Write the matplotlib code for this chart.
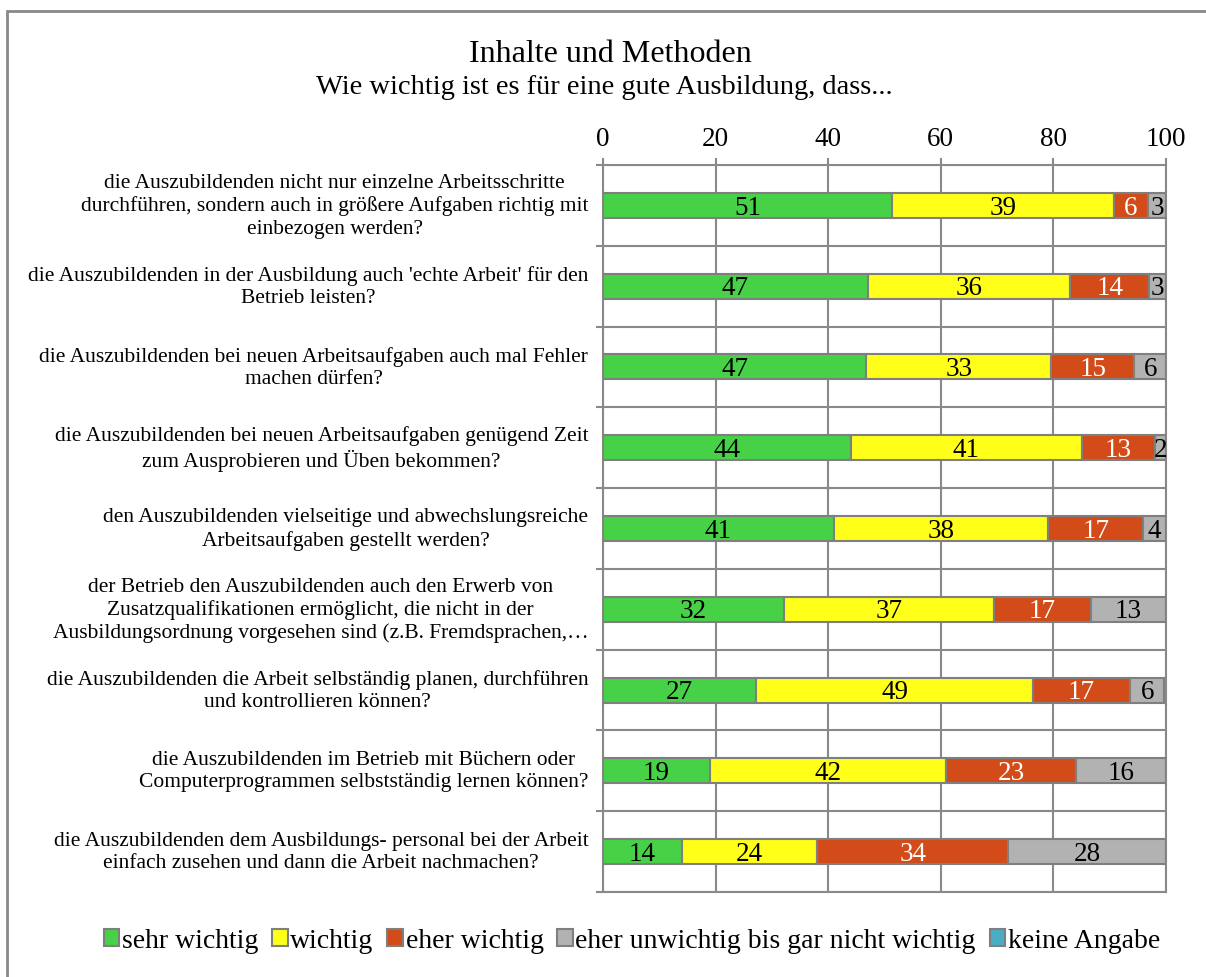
import numpy as np
import matplotlib.pyplot as plt
from matplotlib.patches import Patch, Rectangle

plt.rcParams['font.family'] = ['Liberation Serif', 'DejaVu Serif']

questions = [
    "die Auszubildenden nicht nur einzelne Arbeitsschritte\ndurchführen, sondern auch in größere Aufgaben richtig mit\neinbezogen werden?",
    "die Auszubildenden in der Ausbildung auch 'echte Arbeit' für den\nBetrieb leisten?",
    "die Auszubildenden bei neuen Arbeitsaufgaben auch mal Fehler\nmachen dürfen?",
    "die Auszubildenden bei neuen Arbeitsaufgaben genügend Zeit\nzum Ausprobieren und Üben bekommen?",
    "den Auszubildenden vielseitige und abwechslungsreiche\nArbeitsaufgaben gestellt werden?",
    "der Betrieb den Auszubildenden auch den Erwerb von\nZusatzqualifikationen ermöglicht, die nicht in der\nAusbildungsordnung vorgesehen sind (z.B. Fremdsprachen,…",
    "die Auszubildenden die Arbeit selbständig planen, durchführen\nund kontrollieren können?",
    "die Auszubildenden im Betrieb mit Büchern oder\nComputerprogrammen selbstständig lernen können?",
    "die Auszubildenden dem Ausbildungs- personal bei der Arbeit\neinfach zusehen und dann die Arbeit nachmachen?",
]

# shares in percent, read from the segment edges (labels are rounded)
sehr_wichtig = [51.4, 47.0, 46.8, 44.0, 41.0, 32.2, 27.2, 19.0, 14.0]
wichtig = [39.4, 36.0, 32.8, 41.0, 38.0, 37.2, 49.2, 42.0, 24.0]
eher_wichtig = [6.0, 14.0, 14.8, 13.0, 17.0, 17.2, 17.2, 23.0, 34.0]
eher_unwichtig = [3.2, 3.0, 5.6, 2.0, 4.0, 13.4, 6.1, 16.0, 28.0]
keine_angabe = [0, 0, 0, 0, 0, 0, 0, 0, 0]

series_names = ["sehr wichtig", "wichtig", "eher wichtig",
                "eher unwichtig bis gar nicht wichtig", "keine Angabe"]
series = [sehr_wichtig, wichtig, eher_wichtig, eher_unwichtig, keine_angabe]
colors = ["#47D147", "#FFFF19", "#D24B19", "#B2B2B2", "#4BACC6"]
text_colors = ["black", "black", "white", "black", "black"]
grid_col = "#898989"

W, H = 1206, 978
fig = plt.figure(figsize=(W / 100, H / 100), dpi=100)
ax = fig.add_axes([603 / W, (H - 893) / H, 563 / W, (893 - 166) / H])

y = np.arange(len(questions))
left = np.zeros(len(questions))
for vals, col, tcol in zip(series, colors, text_colors):
    vals = np.array(vals, dtype=float)
    ax.barh(y, vals, left=left, height=0.31, color=col,
            edgecolor="#7F7F7F", linewidth=1.5, zorder=3)
    for yi, l, v in zip(y, left, vals):
        if v > 0:
            ax.text(l + v / 2, yi + 0.02, "%.0f" % v, ha="center", va="center",
                    fontsize=19.5, color=tcol, zorder=4)
    left += vals

ax.set_xlim(0, 100)
ax.set_ylim(len(questions) - 0.5, -0.5)
ax.set_xticks(np.arange(0, 101, 20))
ax.xaxis.tick_top()
ax.tick_params(axis="x", which="major", labelsize=19.5, direction="out",
               length=5, color=grid_col, width=1.5, pad=5)
ax.set_yticks([])
ax.set_yticks(np.arange(-0.5, len(questions), 1), minor=True)
ax.tick_params(axis="y", which="minor", direction="out", length=5,
               color=grid_col, width=1.5)
ax.tick_params(axis="y", which="major", length=0)
ax.grid(axis="x", which="major", color=grid_col, linewidth=1.5, zorder=0)
ax.grid(axis="y", which="minor", color=grid_col, linewidth=1.5, zorder=0)
for s in ax.spines.values():
    s.set_color(grid_col)
    s.set_linewidth(1.5)
ax.set_axisbelow(True)

for yi, q in zip(y, questions):
    ax.text(-0.026, yi, q, transform=ax.get_yaxis_transform(),
            ha="right", va="center", multialignment="center",
            fontsize=15.5, linespacing=1.23)

fig.text(610 / W, 1 - 55 / H, "Inhalte und Methoden", ha="center",
         va="center", fontsize=23)
fig.text(604 / W, 1 - 88 / H, "Wie wichtig ist es für eine gute Ausbildung, dass...",
         ha="center", va="center", fontsize=20.5)

handles = [Patch(facecolor=c, edgecolor="#7F7F7F", linewidth=1.5) for c in colors]
fig.legend(handles, series_names, loc="center", bbox_to_anchor=(632 / W, 1 - 942 / H),
           ncol=5, frameon=False, fontsize=20, handlelength=0.55,
           handleheight=0.55, handletextpad=0.1, columnspacing=0.5,
           borderpad=0, borderaxespad=0)

fig.patches.append(Rectangle((7 / W, -0.01), 1.0, 1 - 12 / H + 0.01,
                             transform=fig.transFigure, fill=False,
                             edgecolor=grid_col, linewidth=2))

fig.savefig("out.png", dpi=100)
